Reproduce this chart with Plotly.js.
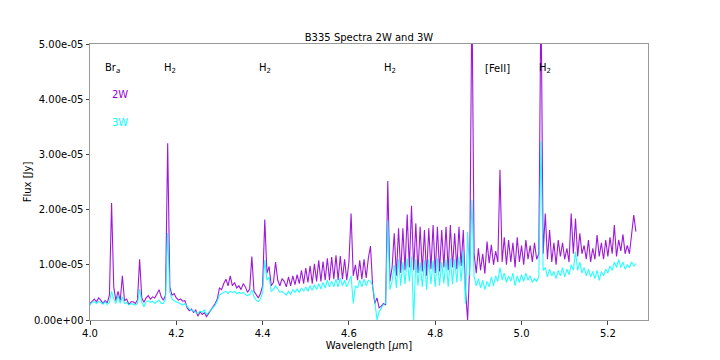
<!DOCTYPE html>
<html lang="en">
<head>
    <meta charset="UTF-8">
    <title>B335 Spectra 2W and 3W</title>
    <style>
        body { margin: 0; background: white; }
        #plot { width: 720px; height: 360px; }
    </style>
</head>
<body>
<div id="plot"></div>
<script src="https://cdn.plot.ly/plotly-3.0.1.min.js"></script>
<script>
    // wavelength in micron
    var wavelength = [
        4.000,4.005,4.010,4.015,4.020,4.025,4.030,4.035,4.040,4.045,
        4.050,4.055,4.060,4.065,4.070,4.075,4.080,4.085,4.090,4.095,
        4.100,4.105,4.110,4.115,4.120,4.125,4.130,4.135,4.140,4.145,
        4.150,4.155,4.160,4.165,4.170,4.175,4.180,4.185,4.190,4.195,
        4.200,4.205,4.210,4.215,4.220,4.225,4.230,4.235,4.240,4.245,
        4.250,4.255,4.260,4.265,4.270,4.275,4.280,4.285,4.290,4.295,
        4.300,4.305,4.310,4.315,4.320,4.325,4.330,4.335,4.340,4.345,
        4.350,4.355,4.360,4.365,4.370,4.375,4.380,4.385,4.390,4.395,
        4.400,4.405,4.410,4.415,4.420,4.425,4.430,4.435,4.440,4.445,
        4.450,4.455,4.460,4.465,4.470,4.475,4.480,4.485,4.490,4.495,
        4.500,4.505,4.510,4.515,4.520,4.525,4.530,4.535,4.540,4.545,
        4.550,4.555,4.560,4.565,4.570,4.575,4.580,4.585,4.590,4.595,
        4.600,4.605,4.610,4.615,4.620,4.625,4.630,4.635,4.640,4.645,
        4.650,4.655,4.660,4.665,4.670,4.675,4.680,4.685,4.690,4.695,
        4.700,4.705,4.710,4.715,4.720,4.725,4.730,4.735,4.740,4.745,
        4.750,4.755,4.760,4.765,4.770,4.775,4.780,4.785,4.790,4.795,
        4.800,4.805,4.810,4.815,4.820,4.825,4.830,4.835,4.840,4.845,
        4.850,4.855,4.860,4.865,4.870,4.875,4.880,4.885,4.890,4.895,
        4.900,4.905,4.910,4.915,4.920,4.925,4.930,4.935,4.940,4.945,
        4.950,4.955,4.960,4.965,4.970,4.975,4.980,4.985,4.990,4.995,
        5.000,5.005,5.010,5.015,5.020,5.025,5.030,5.035,5.040,5.045,
        5.050,5.055,5.060,5.065,5.070,5.075,5.080,5.085,5.090,5.095,
        5.100,5.105,5.110,5.115,5.120,5.125,5.130,5.135,5.140,5.145,
        5.150,5.155,5.160,5.165,5.170,5.175,5.180,5.185,5.190,5.195,
        5.200,5.205,5.210,5.215,5.220,5.225,5.230,5.235,5.240,5.245,
        5.250,5.255,5.260,5.265
    ];

    // flux in units of 1e-5 Jy
    var flux2W = [
        0.30,0.34,0.38,0.33,0.40,0.36,0.30,0.35,0.31,0.45,
        2.12,0.60,0.35,0.52,0.35,0.80,0.35,0.38,0.28,0.33,
        0.33,0.30,0.36,1.10,0.40,0.32,0.40,0.44,0.38,0.42,
        0.40,0.47,0.55,0.42,0.36,0.45,3.20,0.60,0.45,0.48,
        0.40,0.36,0.38,0.34,0.35,0.22,0.17,0.20,0.14,0.18,
        0.07,0.15,0.10,0.13,0.06,0.12,0.17,0.24,0.30,0.38,
        0.58,0.55,0.66,0.74,0.62,0.80,0.62,0.68,0.58,0.62,
        0.55,0.66,0.60,0.50,0.56,1.15,0.52,0.46,0.40,0.48,
        0.62,1.82,0.85,0.97,0.62,0.68,1.05,0.72,0.62,0.75,
        0.70,0.60,0.78,0.62,0.80,0.64,0.82,0.66,0.90,0.66,
        0.94,0.68,0.98,0.66,1.02,0.70,1.08,0.70,1.06,0.72,
        1.12,0.72,1.14,0.74,1.17,0.72,1.16,0.74,1.10,0.72,
        1.05,1.93,0.80,1.00,0.72,1.08,0.74,1.10,0.76,1.12,
        1.34,0.60,0.30,0.40,0.22,0.25,0.30,0.27,2.52,0.70,
        0.95,1.57,0.80,1.66,0.85,1.66,0.90,1.91,0.95,2.07,
        0.90,1.75,0.85,1.69,0.88,1.63,0.80,1.66,0.92,1.72,
        0.85,1.69,0.88,1.63,0.95,1.69,0.90,1.72,0.95,1.57,
        0.92,1.69,0.98,1.63,0.55,0.00,1.00,6.00,1.20,0.85,
        1.30,0.90,1.20,0.84,1.42,1.03,1.36,1.00,1.25,1.05,
        2.72,1.05,1.50,1.00,1.45,1.05,1.40,0.95,1.50,1.05,
        1.35,1.00,1.45,1.10,1.35,1.05,1.40,1.10,1.20,6.00,
        1.20,1.93,1.10,1.63,1.05,1.40,1.00,1.45,1.15,1.40,
        1.10,1.30,1.05,1.93,1.20,1.84,1.15,1.57,1.20,1.35,
        1.10,1.45,1.05,1.30,1.10,1.54,1.15,1.40,1.10,1.45,
        1.15,1.50,1.20,1.72,1.15,1.45,1.25,1.55,1.20,1.35,
        1.20,1.55,1.90,1.60
    ];

    var flux3W = [
        0.27,0.32,0.33,0.30,0.34,0.31,0.29,0.33,0.28,0.32,
        0.52,0.38,0.30,0.45,0.30,0.42,0.30,0.32,0.27,0.30,
        0.28,0.27,0.30,0.56,0.32,0.24,0.33,0.35,0.32,0.34,
        0.30,0.33,0.36,0.30,0.30,0.38,1.58,0.50,0.38,0.35,
        0.33,0.30,0.28,0.27,0.30,0.25,0.20,0.18,0.16,0.15,
        0.12,0.16,0.14,0.18,0.10,0.14,0.18,0.22,0.27,0.35,
        0.45,0.48,0.50,0.52,0.48,0.52,0.50,0.52,0.48,0.50,
        0.48,0.50,0.46,0.44,0.46,0.55,0.42,0.36,0.33,0.38,
        0.50,1.09,0.72,0.78,0.52,0.55,0.62,0.55,0.50,0.52,
        0.48,0.45,0.52,0.46,0.55,0.50,0.56,0.50,0.58,0.52,
        0.60,0.52,0.62,0.54,0.64,0.55,0.66,0.56,0.68,0.58,
        0.72,0.60,0.70,0.60,0.74,0.60,0.76,0.62,0.72,0.60,
        0.70,0.80,0.30,0.62,0.58,0.72,0.60,0.74,0.62,0.72,
        0.70,0.62,0.35,0.00,0.15,0.22,0.28,0.30,1.80,0.55,
        0.70,1.00,0.58,1.10,0.62,1.05,0.65,1.12,0.70,1.15,
        0.00,1.10,0.62,1.05,0.60,1.08,0.55,1.10,0.65,1.08,
        0.60,1.12,0.62,1.05,0.66,1.10,0.60,1.12,0.65,1.10,
        0.68,1.15,0.70,1.25,0.30,1.60,0.80,2.18,0.78,0.62,
        0.75,0.58,0.72,0.55,0.70,0.60,0.78,0.62,0.80,0.70,
        0.95,0.72,0.85,0.68,0.80,0.70,0.85,0.62,0.80,0.68,
        0.82,0.70,0.85,0.72,0.80,0.68,0.75,0.70,0.78,3.24,
        0.90,0.95,0.78,0.92,0.80,0.88,0.75,0.90,0.80,0.95,
        0.78,0.92,0.82,1.00,0.90,1.24,0.90,1.05,0.85,0.95,
        0.80,0.92,0.78,0.88,0.75,0.90,0.72,0.88,0.80,0.92,
        0.85,0.98,0.90,1.05,0.95,1.10,0.95,1.05,0.92,1.00,
        0.95,1.05,0.98,1.02
    ];

    // line labels
    var lineNames = ['Br<sub><i>a</i></sub>', 'H<sub>2</sub>', 'H<sub>2</sub>', 'H<sub>2</sub>', '[FeII]', 'H<sub>2</sub>'];
    var lineX = [4.029, 4.166, 4.388, 4.677, 4.911, 5.035];
    var lineY = 4.55;

    var yTickVals = [0, 1, 2, 3, 4, 5];
    var yTickText = ['0.00e+00', '1.00e-05', '2.00e-05', '3.00e-05', '4.00e-05', '5.00e-05'];

    var purple = '#9400d3';
    var cyan = '#00ffff';

    var trace2W = {
        x: wavelength, y: flux2W,
        type: 'scatter', mode: 'lines',
        line: {color: purple, width: 1.1},
        opacity: 0.9,
        name: '2W'
    };
    var trace3W = {
        x: wavelength, y: flux3W,
        type: 'scatter', mode: 'lines',
        line: {color: cyan, width: 1.1},
        opacity: 0.85,
        name: '3W'
    };

    var annotations = lineNames.map(function (t, i) {
        return {
            x: lineX[i], y: lineY, xref: 'x', yref: 'y',
            text: t, showarrow: false,
            xanchor: 'left', yanchor: 'middle',
            font: {size: 10, color: 'black'}
        };
    });
    annotations.push({x: 4.046, y: 4.08, xref: 'x', yref: 'y', text: '2W', showarrow: false,
        xanchor: 'left', yanchor: 'middle', font: {size: 10, color: purple}});
    annotations.push({x: 4.046, y: 3.57, xref: 'x', yref: 'y', text: '3W', showarrow: false,
        xanchor: 'left', yanchor: 'middle', font: {size: 10, color: cyan}});

    var layout = {
        width: 720, height: 360,
        margin: {l: 90, r: 72, t: 44, b: 40},
        paper_bgcolor: 'white', plot_bgcolor: 'white',
        font: {family: 'DejaVu Sans', size: 10, color: 'black'},
        showlegend: false,
        title: {text: 'B335 Spectra 2W and 3W', x: 0.5125, xanchor: 'center', y: 0.897, yanchor: 'middle',
            font: {size: 10}},
        xaxis: {
            range: [4.0, 5.293], dtick: 0.2, tick0: 4.0, tickformat: '.1f',
            showgrid: false, zeroline: false,
            showline: true, mirror: true, linecolor: '#999', linewidth: 1,
            ticks: 'outside', ticklen: 3.5, tickcolor: '#444',
            title: {text: 'Wavelength [<i>μ</i>m]', standoff: 4, font: {size: 10}}
        },
        yaxis: {
            range: [0, 5], tickvals: yTickVals, ticktext: yTickText,
            showgrid: false, zeroline: false,
            showline: true, mirror: true, linecolor: '#999', linewidth: 1,
            ticks: 'outside', ticklen: 3.5, tickcolor: '#444',
            title: {text: 'Flux [Jy]', standoff: 0, font: {size: 10}}
        },
        annotations: annotations
    };

    Plotly.newPlot('plot', [trace2W, trace3W], layout, {staticPlot: true});
</script>
</body>
</html>
